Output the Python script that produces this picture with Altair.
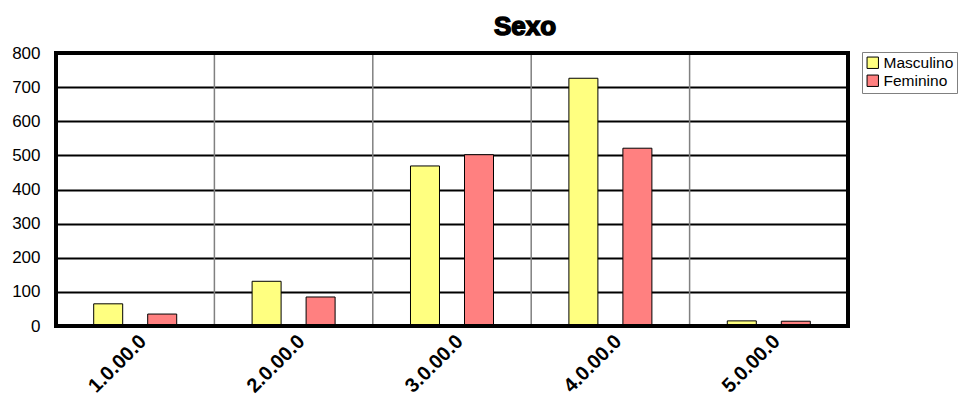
import altair as alt
import pandas as pd

categories = ["1.0.00.0", "2.0.00.0", "3.0.00.0", "4.0.00.0", "5.0.00.0"]
series = ["Masculino", "Feminino"]
masculino = [65, 131, 469, 726, 15]
feminino = [35, 85, 502, 521, 14]
colors = ["#FFFF80", "#FF8080"]
y_ticks = [0, 100, 200, 300, 400, 500, 600, 700, 800]
title_text = "Sexo"

rows = []
for c, m, f in zip(categories, masculino, feminino):
    rows.append({"cat": c, "serie": "Masculino", "valor": m})
    rows.append({"cat": c, "serie": "Feminino", "valor": f})
df = pd.DataFrame(rows)
bounds = pd.DataFrame({"cat": categories[1:]})
tdf = pd.DataFrame({"t": [title_text]})

FONT = "Liberation Sans"
W, H = 792, 273

xscale = alt.Scale(domain=categories, paddingInner=0, paddingOuter=0)

bars = alt.Chart(df).mark_bar(stroke="black", strokeWidth=1).encode(
    x=alt.X("cat:N", scale=xscale, sort=categories, title=None,
            axis=alt.Axis(labelAngle=-45, labelFontSize=20, labelFontWeight="bold",
                          labelFont=FONT, labelColor="black", ticks=False, domain=False,
                          labelPadding=12, labelOffset=8, grid=False)),
    xOffset=alt.XOffset("serie:N", sort=series,
                        scale=alt.Scale(domain=series, paddingInner=0.463, paddingOuter=0.698)),
    y=alt.Y("valor:Q", scale=alt.Scale(domain=[0, 800], nice=False), title=None,
            axis=alt.Axis(values=y_ticks, labelFontSize=17, labelFont=FONT, labelColor="black",
                          ticks=False, domain=False, labelPadding=16, grid=True,
                          gridColor="black", gridWidth=2)),
    color=alt.Color("serie:N", sort=series,
                    scale=alt.Scale(domain=series, range=colors),
                    legend=alt.Legend(title=None, orient="none", legendX=806, legendY=-1,
                                      symbolType="square", symbolSize=130,
                                      symbolStrokeColor="black", symbolStrokeWidth=1,
                                      symbolOpacity=1, labelFontSize=15.5, labelFont=FONT,
                                      labelColor="black", rowPadding=1, padding=3,
                                      strokeColor="#808080", fillColor="white",
                                      labelOffset=3)),
)

vlines = alt.Chart(bounds).mark_rule(color="#808080", strokeWidth=1.5).encode(
    x=alt.X("cat:N", scale=xscale, sort=categories, bandPosition=0),
)

frame = alt.Chart(tdf).mark_rect(fill=None, stroke="black", strokeWidth=4).encode(
    x=alt.value(0), x2=alt.value(W), y=alt.value(0), y2=alt.value(H))

title_main = alt.Chart(tdf).mark_text(fontSize=26, fontWeight="bold", font=FONT,
                                      color="black", stroke="black", strokeWidth=1.5).encode(
    text="t:N", x=alt.value(469), y=alt.value(-26))

chart = alt.layer(vlines, bars, frame, title_main).properties(
    width=W, height=H,
    autosize=alt.AutoSizeParams(type="none"),
    padding={"left": 56, "top": 53, "right": 110, "bottom": 75},
).configure_view(stroke=None).configure(background="white")

chart.save("out.html", embed_options={"renderer": "svg", "actions": False})
